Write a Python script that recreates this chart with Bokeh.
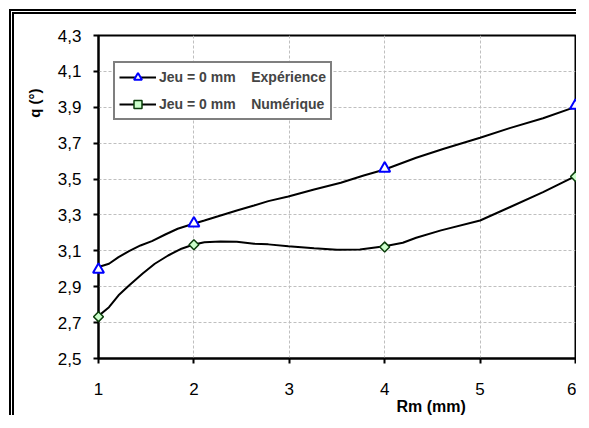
import math
from bokeh.plotting import figure
from bokeh.layouts import column, row
from bokeh.models import FixedTicker, Legend, LegendItem, Range1d, Title, Spacer
from bokeh.embed import file_html
from bokeh.resources import INLINE

# ---- data ----
rm_points = [1, 2, 4, 6]
exp_points = [2.996, 3.253, 3.559, 3.910]
num_points = [2.733, 3.134, 3.121, 3.514]

exp_curve_x = [1.0, 1.11, 1.21, 1.32, 1.44, 1.56, 1.70, 1.83, 1.97, 2.11, 2.28, 2.45,
               2.63, 2.78, 2.99, 3.26, 3.54, 3.78, 4.0, 4.33, 4.62, 5.0, 5.31, 5.66, 6.0]
exp_curve_y = [3.010, 3.028, 3.065, 3.098, 3.130, 3.154, 3.191, 3.223, 3.247, 3.269, 3.297, 3.325,
               3.353, 3.377, 3.403, 3.442, 3.479, 3.520, 3.553, 3.619, 3.669, 3.730, 3.784, 3.839, 3.902]

num_curve_x = [1.0, 1.11, 1.21, 1.32, 1.46, 1.59, 1.73, 1.87, 1.99, 2.11, 2.28, 2.45, 2.63,
               2.78, 2.99, 3.26, 3.50, 3.74, 4.0, 4.19, 4.33, 4.59, 5.0, 5.31, 5.66, 6.0]
num_curve_y = [2.737, 2.786, 2.852, 2.907, 2.972, 3.028, 3.074, 3.112, 3.134, 3.148, 3.152, 3.151, 3.140,
               3.136, 3.126, 3.115, 3.106, 3.108, 3.125, 3.145, 3.173, 3.214, 3.269, 3.343, 3.427, 3.516]

x_ticks = [1, 2, 3, 4, 5, 6]
x_tick_labels = ["1", "2", "3", "4", "5", "6"]
y_ticks = [2.5, 2.7, 2.9, 3.1, 3.3, 3.5, 3.7, 3.9, 4.1, 4.3]
y_tick_labels = ["2,5", "2,7", "2,9", "3,1", "3,3", "3,5", "3,7", "3,9", "4,1", "4,3"]

gap = "\u00a0" * 4
label_exp = "Jeu = 0 mm" + gap + "Expérience"
label_num = "Jeu = 0 mm" + gap + "Numérique"
x_title = "Rm (mm)"
y_title = "q (°)"

FONT = "Liberation Sans"

# ---- layout (canvas pixels) ----
W, H = 567, 406
BL, BR, BT, BB = 82, 6, 21, 62

p = figure(width=W, height=H, output_backend="svg", toolbar_location=None,
           x_range=Range1d(1, 6), y_range=Range1d(2.5, 4.3),
           min_border_left=BL, min_border_right=BR, min_border_top=BT, min_border_bottom=BB,
           background_fill_color="white", border_fill_color="white")
p.styles = {"border-left": "5px double black", "border-top": "5px double black"}

p.outline_line_color = "black"
p.outline_line_width = 2

for ax in (p.xaxis[0], p.yaxis[0]):
    ax.axis_line_width = 2
    ax.axis_line_color = "black"
    ax.major_tick_line_width = 2
    ax.major_tick_out = 5
    ax.major_tick_in = 0
    ax.minor_tick_out = 0
    ax.minor_tick_in = 0
    ax.major_label_text_font = FONT
    ax.major_label_text_font_size = "17px"
    ax.major_label_text_color = "black"

p.xaxis[0].ticker = FixedTicker(ticks=x_ticks)
p.xaxis[0].major_label_overrides = dict(zip(x_ticks, x_tick_labels))
p.xaxis[0].major_label_standoff = 19
p.yaxis[0].ticker = FixedTicker(ticks=y_ticks)
p.yaxis[0].major_label_overrides = dict(zip(y_ticks, y_tick_labels))
p.yaxis[0].major_label_standoff = 12

for g in (p.xgrid[0], p.ygrid[0]):
    g.grid_line_color = "#bfbfbf"
    g.grid_line_dash = "3 2"
    g.grid_line_width = 1

l_exp = p.line(exp_curve_x, exp_curve_y, line_color="black", line_width=2)
l_num = p.line(num_curve_x, num_curve_y, line_color="black", line_width=2)

m_exp = p.scatter(rm_points, exp_points, marker="triangle", size=11, line_color="#0000ff",
                  line_width=2, fill_color="white", level="overlay")
m_num = p.scatter(rm_points, num_points, marker="square", size=7, angle=45, angle_units="deg",
                  line_color="#0a3d0a", line_width=1.5, fill_color="#ccffcc", level="overlay")

legend = Legend(items=[LegendItem(label=label_exp, renderers=[l_exp, m_exp]),
                       LegendItem(label=label_num, renderers=[l_num, m_num])],
                location=(15, 238), orientation="vertical",
                glyph_width=37, glyph_height=20, label_height=20, label_standoff=3,
                spacing=7, padding=4, margin=0,
                label_text_font=FONT, label_text_font_size="14px", label_text_font_style="bold",
                border_line_color="black", border_line_width=2,
                background_fill_color="white", background_fill_alpha=1.0)
p.add_layout(legend)

p.add_layout(Title(text=y_title, align="right", offset=53, standoff=21, vertical_align="middle",
                   text_font=FONT, text_font_size="15px", text_font_style="bold",
                   text_color="black"), "left")
p.add_layout(Title(text=x_title, align="left", offset=298, standoff=0, vertical_align="top",
                   text_font=FONT, text_font_size="16px", text_font_style="bold",
                   text_color="black"), "below")

root = column(Spacer(width=W + 14, height=9), row(Spacer(width=9, height=H), p))

open("out.html", "w").write(file_html(root, INLINE))
